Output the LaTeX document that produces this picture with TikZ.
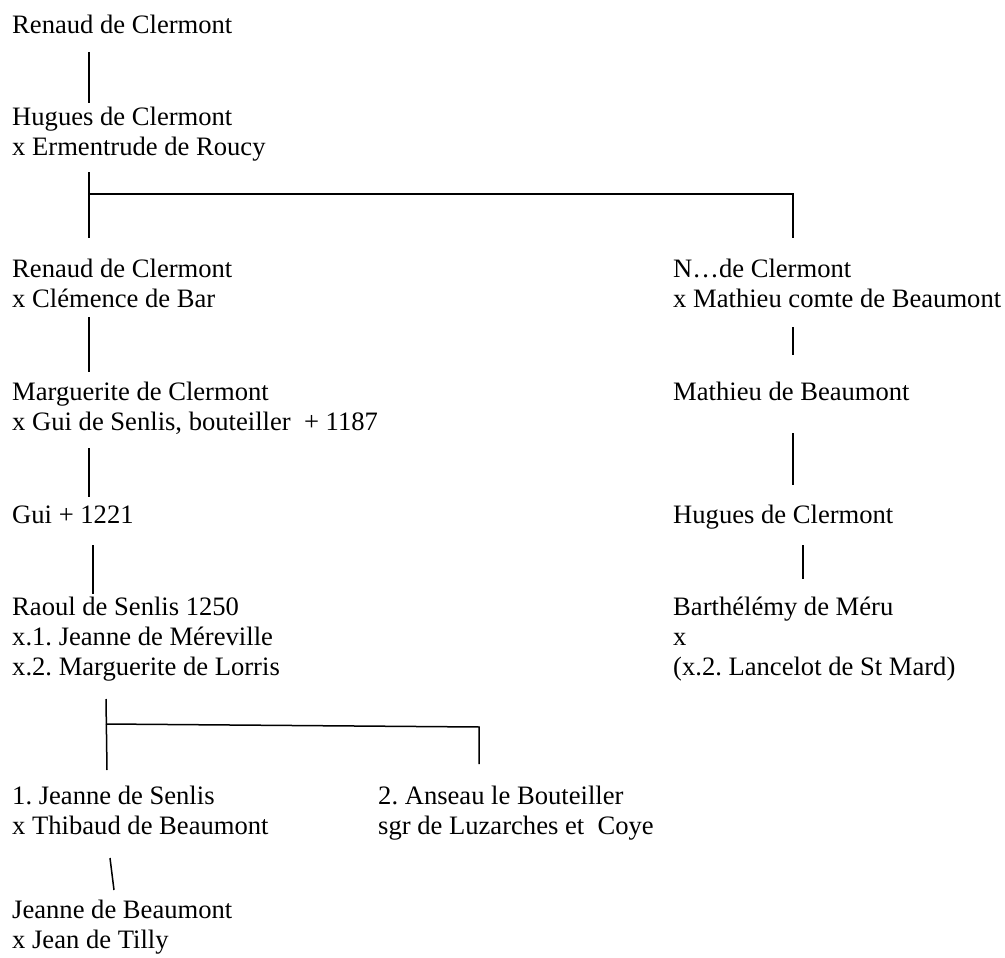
\documentclass[tikz,border=0pt]{standalone}
\usepackage{fontspec}
\setmainfont{Liberation Serif}
\begin{document}
\frenchspacing
\begin{tikzpicture}[x=1pt,y=-1pt,
  person/.style={anchor=north west, inner sep=0pt, align=left, font=\fontsize{26.6}{30}\selectfont\frenchspacing},
  conn/.style={line width=1.5pt, line cap=butt}]
\useasboundingbox (0,0) rectangle (1005,958);
% left column
\node[person] (r1) at (12,12) {\strut Renaud de Clermont};
\node[person] (hug) at (12,104) {\strut Hugues de Clermont\\\strut x Ermentrude de Roucy};
\node[person] (ren2) at (12,256) {\strut Renaud de Clermont\\\strut x Clémence de Bar};
\node[person] (marg) at (12,379) {\strut Marguerite de Clermont\\\strut x Gui de Senlis, bouteiller\ \ + 1187};
\node[person] (gui) at (12,502) {\strut Gui + 1221};
\node[person] (raoul) at (12,594) {\strut Raoul de Senlis 1250\\\strut x.1. Jeanne de Méreville\\\strut x.2. Marguerite de Lorris};
\node[person] (jean) at (12,783) {\strut 1. Jeanne de Senlis\\\strut x Thibaud de Beaumont};
\node[person] (ans) at (378,783) {\strut 2. Anseau le Bouteiller\\\strut sgr de Luzarches et\ \ Coye};
\node[person] (jbeau) at (12,897) {\strut Jeanne de Beaumont\\\strut x Jean de Tilly};
% right column
\node[person] (ncl) at (673,256) {\strut N…de Clermont\\\strut x Mathieu comte de Beaumont};
\node[person] (math) at (673,379) {\strut Mathieu de Beaumont};
\node[person] (hug2) at (673,502) {\strut Hugues de Clermont};
\node[person] (barth) at (673,594) {\strut Barthélémy de Méru\\\strut x\\\strut (x.2. Lancelot de St Mard)};
% connector end points
\coordinate (a1) at (89,52);  \coordinate (a2) at (89,103);
\coordinate (b1) at (89,172); \coordinate (b2) at (89,238);
\coordinate (bj) at (89,194); \coordinate (bk) at (793,194); \coordinate (bl) at (793,238);
\coordinate (c1) at (89,317); \coordinate (c2) at (89,372);
\coordinate (d1) at (89,448); \coordinate (d2) at (89,497);
\coordinate (e1) at (93,545); \coordinate (e2) at (93,594);
\coordinate (f1) at (106,699); \coordinate (f2) at (107,770);
\coordinate (fj) at (106,724); \coordinate (fk) at (479,727); \coordinate (fl) at (479,764);
\coordinate (g1) at (110,858); \coordinate (g2) at (114,890);
\coordinate (h1) at (793,327); \coordinate (h2) at (793,355);
\coordinate (i1) at (793,433); \coordinate (i2) at (793,485);
\coordinate (k1) at (803,545); \coordinate (k2) at (803,579);
% connectors
\draw[conn] (a1) -- (a2);
\draw[conn] (b1) -- (b2);
\draw[conn] (bj) -- (bk) -- (bl);
\draw[conn] (c1) -- (c2);
\draw[conn] (d1) -- (d2);
\draw[conn] (e1) -- (e2);
\draw[conn] (f1) -- (f2);
\draw[conn] (fj) -- (fk) -- (fl);
\draw[conn] (g1) -- (g2);
\draw[conn] (h1) -- (h2);
\draw[conn] (i1) -- (i2);
\draw[conn] (k1) -- (k2);
\end{tikzpicture}
\end{document}
